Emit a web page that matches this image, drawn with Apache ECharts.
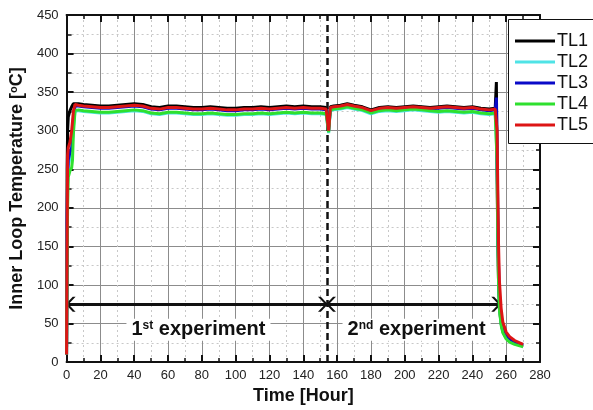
<!DOCTYPE html>
<html lang="en">
<head>
    <meta charset="UTF-8">
    <title>Inner Loop Temperature</title>
    <style type="text/css">
        body{
            margin: 0px;
            padding: 0px;
            background: #ffffff;
        }
        #chart{
            width: 593px;
            height: 410px;
        }
    </style>
</head>
<body>
    <div id="chart"></div>
</body>
<script src="https://cdn.jsdelivr.net/npm/echarts@6/dist/echarts.min.js" type="text/javascript"></script>
<script type="text/javascript">
    // sample times (hours), shared by all thermocouples
    var hours = [0, 0.3, 0.6, 1, 2, 3, 3.5, 4, 5, 7,
        10, 15, 20, 25, 30, 35, 40, 45, 50, 55,
        60, 65, 70, 75, 80, 85, 90, 95, 100, 105,
        110, 115, 120, 125, 130, 135, 140, 145, 150, 153.5,
        154.5, 155, 156, 158, 162, 166, 170, 175, 180, 185,
        190, 195, 200, 205, 210, 215, 220, 225, 230, 235,
        240, 245, 250, 253.5, 254.2, 254.6, 255, 255.5, 256, 257,
        258, 260, 262, 265, 268, 270];

    var tl1 = [20, 250, 300, 318, 326, 331, 333, 335, 336, 335,
        334, 333, 332, 332, 333, 334, 335, 334, 331, 330,
        332, 332, 331, 330, 330, 331, 330, 329, 329, 330,
        330, 331, 330, 331, 332, 331, 332, 331, 331, 330,
        330, 305, 331, 332, 333, 335, 333, 331, 327, 330,
        331, 330, 331, 332, 331, 330, 331, 332, 331, 330,
        331, 329, 328, 329, 363, 250, 160, 100, 70, 50,
        40, 32, 28, 24, 22, 21];

    var tl2 = [10, 160, 230, 255, 265, 272, 285, 305, 325, 326,
        325, 324, 323, 323, 324, 325, 326, 325, 322, 321,
        323, 323, 322, 321, 321, 322, 321, 320, 320, 321,
        321, 322, 321, 322, 323, 322, 323, 322, 322, 321,
        321, 297, 326, 327, 328, 330, 328, 326, 322, 325,
        326, 325, 326, 327, 326, 325, 324, 325, 324, 323,
        324, 322, 321, 322, 321, 265, 180, 108, 72, 50,
        40, 32, 27, 24, 22, 21];

    var tl3 = [10, 180, 240, 262, 272, 278, 290, 315, 332, 332,
        331, 330, 329, 329, 330, 331, 332, 331, 328, 327,
        329, 329, 328, 327, 327, 328, 327, 326, 326, 327,
        327, 328, 327, 328, 329, 328, 329, 328, 328, 327,
        327, 300, 329, 330, 331, 333, 331, 329, 325, 328,
        329, 328, 329, 330, 329, 328, 329, 330, 329, 328,
        329, 327, 326, 327, 343, 280, 200, 125, 85, 58,
        45, 35, 30, 26, 24, 22];

    var tl4 = [10, 120, 200, 240, 248, 252, 262, 295, 326, 327,
        326, 325, 324, 324, 325, 326, 327, 326, 323, 322,
        324, 324, 323, 322, 322, 323, 322, 321, 321, 322,
        322, 323, 322, 323, 324, 323, 324, 323, 323, 322,
        322, 298, 327, 328, 329, 331, 329, 327, 323, 326,
        327, 326, 327, 328, 327, 326, 325, 326, 325, 324,
        325, 323, 322, 323, 322, 260, 170, 100, 68, 48,
        38, 30, 26, 23, 21, 20];

    var tl5 = [10, 150, 268, 278, 285, 300, 312, 325, 334, 333,
        332, 331, 330, 330, 331, 332, 333, 332, 329, 328,
        330, 330, 329, 328, 328, 329, 328, 327, 327, 328,
        328, 329, 328, 329, 330, 329, 330, 329, 329, 328,
        328, 300, 330, 331, 332, 334, 332, 330, 326, 329,
        330, 329, 330, 331, 330, 329, 330, 331, 330, 329,
        330, 328, 327, 328, 327, 300, 230, 150, 105, 70,
        52, 39, 33, 28, 25, 23];

    var seriesNames = ['TL1', 'TL2', 'TL3', 'TL4', 'TL5'];
    var seriesColors = ['#000000', '#4fe3e6', '#0a0ac8', '#2ee02e', '#dd1515'];
    var seriesValues = [tl1, tl2, tl3, tl4, tl5];

    // annotations
    var splitHour = 154;
    var endHour = 256.5;
    var arrowTemp = 75;
    var labelTemp = 42;
    var label1Hour = 78;
    var label2Hour = 207;

    var fontName = 'Arial, "Liberation Sans", sans-serif';
    var ink = '#111111';
    // open arrow head, tip at the top of the path box
    var chevron = 'path://M10,0 L20,10 L20,14 L10,4 L0,14 L0,10 Z';

    function pairs(values) {
        var out = [];
        for (var i = 0; i < hours.length; i++) {
            out.push([hours[i], values[i]]);
        }
        return out;
    }

    var series = [];
    for (var s = 0; s < seriesNames.length; s++) {
        series.push({
            name: seriesNames[s],
            type: 'line',
            data: pairs(seriesValues[s]),
            showSymbol: false,
            symbol: 'none',
            color: seriesColors[s],
            lineStyle: {width: 3, color: seriesColors[s]},
            z: 3 + s
        });
    }

    var expLabel = {
        show: true,
        position: 'inside',
        backgroundColor: '#ffffff',
        padding: [1, 5, 1, 5],
        rich: {
            n: {fontSize: 20, fontWeight: 'bold', color: ink, fontFamily: fontName},
            s: {fontSize: 12, fontWeight: 'bold', color: ink, fontFamily: fontName, verticalAlign: 'top'}
        }
    };

    var arrowStyle = {color: ink, width: 3, type: 'solid'};
    var headSize = [15, 10];
    var headOffset = [0, 4];

    function head() {
        return {symbol: chevron, symbolSize: headSize, symbolOffset: headOffset, lineStyle: arrowStyle};
    }

    // dashed split line, arrows and experiment labels
    series.push({
        name: 'notes',
        type: 'line',
        data: [],
        z: 10,
        markLine: {
            silent: true,
            animation: false,
            symbol: ['none', 'none'],
            symbolSize: headSize,
            label: {show: false},
            data: [
                [
                    {coord: [splitHour, 0], symbol: 'none', lineStyle: {color: ink, width: 2.5, type: [7, 4]}},
                    {coord: [splitHour, 450], symbol: 'none', lineStyle: {color: ink, width: 2.5, type: [7, 4]}}
                ],
                [
                    Object.assign({coord: [0, arrowTemp]}, head()),
                    Object.assign({coord: [splitHour, arrowTemp]}, head())
                ],
                [
                    Object.assign({coord: [splitHour, arrowTemp]}, head()),
                    Object.assign({coord: [endHour, arrowTemp]}, head())
                ]
            ]
        },
        markPoint: {
            silent: true,
            animation: false,
            symbol: 'rect',
            symbolSize: 1,
            itemStyle: {color: 'rgba(0,0,0,0)'},
            data: [
                {coord: [label1Hour, labelTemp], label: Object.assign({}, expLabel, {formatter: '{n|1}{s|st}{n| experiment}'})},
                {coord: [label2Hour, labelTemp], label: Object.assign({}, expLabel, {formatter: '{n|2}{s|nd}{n| experiment}'})}
            ]
        }
    });

    function frameAxis(pos) {
        return {
            type: 'value',
            position: pos,
            min: 0,
            max: (pos === 'top') ? 280 : 450,
            interval: (pos === 'top') ? 20 : 50,
            axisLine: {show: true, onZero: false, lineStyle: {color: ink, width: 2}},
            axisTick: {show: true, inside: true, length: 7, lineStyle: {color: ink, width: 2}},
            minorTick: {show: true, splitNumber: 2, length: 4, lineStyle: {color: ink, width: 1.5}},
            axisLabel: {show: false},
            splitLine: {show: false}
        };
    }

    var option = {
        backgroundColor: '#ffffff',
        animation: false,
        textStyle: {fontFamily: fontName},
        grid: {left: 61, right: 53, top: 15, bottom: 43},
        // legend frame runs off the right edge of the picture
        graphic: [{
            type: 'rect',
            left: 508,
            top: 19,
            z: 20,
            shape: {width: 120, height: 124},
            style: {fill: '#ffffff', stroke: ink, lineWidth: 1}
        }],
        legend: {
            data: seriesNames,
            orient: 'vertical',
            left: 508,
            top: 19,
            z: 21,
            borderWidth: 0,
            padding: [13, 20, 10, 7],
            icon: 'rect',
            itemWidth: 40,
            itemHeight: 3,
            itemGap: 3,
            textStyle: {fontSize: 18, color: ink, fontFamily: fontName, padding: [0, 0, 0, -3]}
        },
        xAxis: [
            {
                type: 'value',
                position: 'bottom',
                min: 0,
                max: 280,
                interval: 20,
                name: 'Time [Hour]',
                nameLocation: 'middle',
                nameGap: 24,
                nameTextStyle: {fontSize: 18, fontWeight: 'bold', color: ink, fontFamily: fontName},
                axisLine: {show: true, onZero: false, lineStyle: {color: ink, width: 2}},
                axisTick: {show: true, inside: true, length: 7, lineStyle: {color: ink, width: 2}},
                minorTick: {show: true, splitNumber: 2, length: 4, lineStyle: {color: ink, width: 1.5}},
                axisLabel: {fontSize: 13, color: '#222222', margin: 7, fontFamily: fontName},
                splitLine: {show: true, lineStyle: {color: '#8c8c8c', width: 1}},
                minorSplitLine: {show: true, lineStyle: {color: '#c8c8c8', width: 1, type: [2, 3]}}
            },
            frameAxis('top')
        ],
        yAxis: [
            {
                type: 'value',
                position: 'left',
                min: 0,
                max: 450,
                interval: 50,
                name: 'Inner Loop Temperature [{s|o}C]',
                nameLocation: 'middle',
                nameGap: 37,
                nameTextStyle: {
                    fontSize: 18, fontWeight: 'bold', color: ink, fontFamily: fontName,
                    rich: {s: {fontSize: 11, fontWeight: 'bold', color: ink, fontFamily: fontName, verticalAlign: 'top'}}
                },
                axisLine: {show: true, onZero: false, lineStyle: {color: ink, width: 2}},
                axisTick: {show: true, inside: true, length: 7, lineStyle: {color: ink, width: 2}},
                minorTick: {show: true, splitNumber: 2, length: 5, lineStyle: {color: ink, width: 1.5}},
                axisLabel: {fontSize: 13, color: '#222222', margin: 8, fontFamily: fontName},
                splitLine: {show: true, lineStyle: {color: '#8c8c8c', width: 1}},
                minorSplitLine: {show: true, lineStyle: {color: '#c8c8c8', width: 1, type: [2, 3]}}
            },
            frameAxis('right')
        ],
        series: series
    };

    var chart = echarts.init(document.getElementById('chart'));
    chart.setOption(option);
</script>
</html>
